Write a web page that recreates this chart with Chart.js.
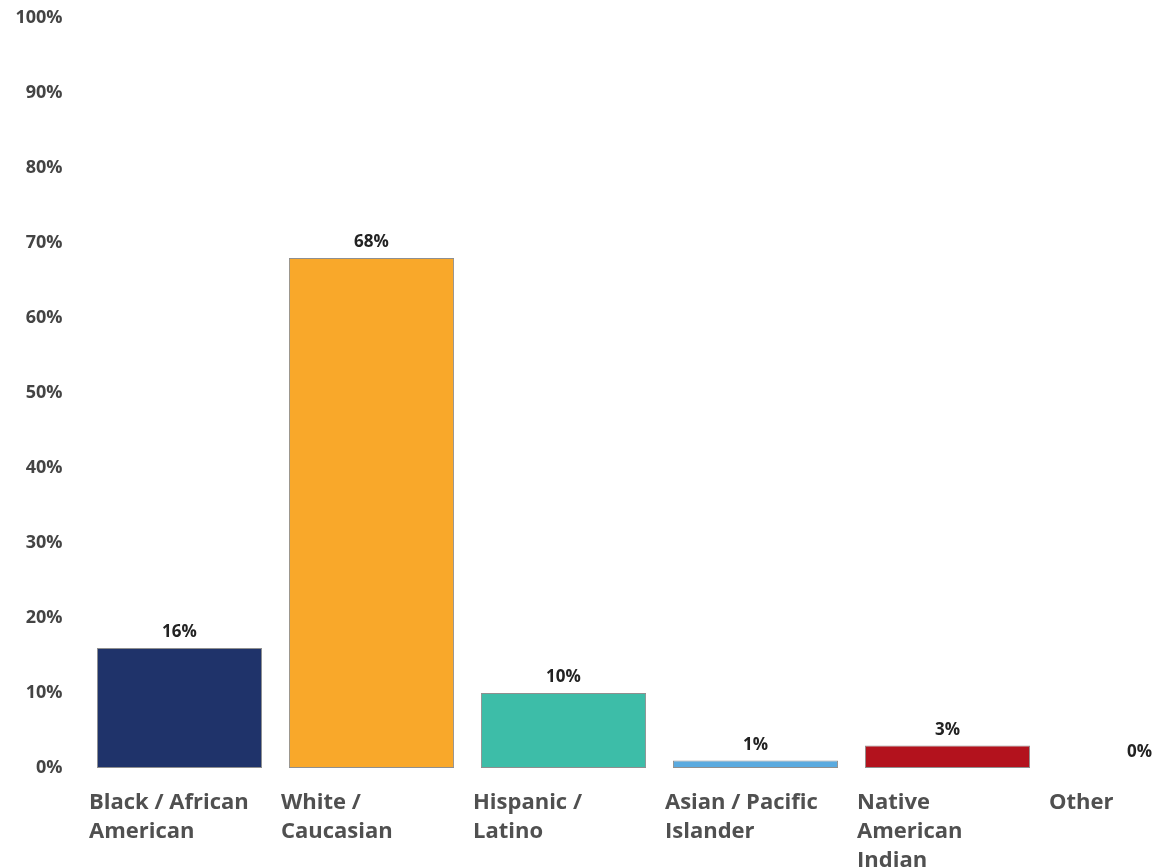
<!DOCTYPE html>
<html>
<head>
<meta charset="utf-8">
<script src="https://cdn.jsdelivr.net/npm/chart.js@4/dist/chart.umd.min.js"></script>
<style>
  html, body { margin: 0; padding: 0; background: #fff; overflow: hidden; width: 1155px; height: 868px; }
  #wrap { position: absolute; left: 0; top: 0; width: 1240px; height: 880px; }
</style>
</head>
<body>
<div id="wrap"><canvas id="c"></canvas></div>
<script>
// Race / ethnicity breakdown (percent of total)
const categories = [
  ['Black / African', 'American'],
  ['White /', 'Caucasian'],
  ['Hispanic /', 'Latino'],
  ['Asian / Pacific', 'Islander'],
  ['Native', 'American', 'Indian'],
  ['Other']
];
const shares = [16, 68, 10, 1, 3, 0];
const barColors = ['#1f336a', '#f9a82a', '#3dbda8', '#5aaadf', '#b3121d', '#999999'];
const yTicks = [0, 10, 20, 30, 40, 50, 60, 70, 80, 90, 100];

// Draws the percentage above each bar
const valueLabels = {
  id: 'valueLabels',
  afterDatasetsDraw(chart) {
    const ctx = chart.ctx;
    const meta = chart.getDatasetMeta(0);
    ctx.save();
    ctx.font = 'bold 17px "Open Sans", sans-serif';
    ctx.fillStyle = '#222';
    ctx.textAlign = 'center';
    ctx.textBaseline = 'alphabetic';
    meta.data.forEach((bar, i) => {
      ctx.fillText(shares[i] + '%', bar.x, bar.y - 11);
    });
    ctx.restore();
  }
};

new Chart(document.getElementById('c'), {
  type: 'bar',
  data: {
    labels: categories,
    datasets: [{
      data: shares,
      backgroundColor: barColors,
      borderColor: '#8f8f8f',
      borderWidth: 1,
      borderSkipped: false,
      barPercentage: 0.86,
      categoryPercentage: 1
    }]
  },
  options: {
    responsive: true,
    maintainAspectRatio: false,
    animation: false,
    events: [],
    layout: { padding: { left: 0, top: 18, right: 4.5, bottom: 0 } },
    plugins: { legend: { display: false }, tooltip: { enabled: false } },
    scales: {
      x: {
        grid: { display: false, drawTicks: false },
        border: { display: false },
        ticks: {
          align: 'start',
          labelOffset: -90.5,
          padding: 20,
          maxRotation: 0,
          autoSkip: false,
          color: '#505050',
          font: { family: '"Open Sans", sans-serif', size: 22, weight: 'bold', lineHeight: 29 / 22 }
        },
        afterFit(s) { s.height = 112; }
      },
      y: {
        min: 0,
        max: 100,
        grid: { display: false, drawTicks: false },
        border: { display: false },
        afterBuildTicks(s) { s.ticks = yTicks.map(v => ({ value: v })); },
        ticks: {
          padding: 21,
          color: '#444',
          font: { family: '"Open Sans", sans-serif', size: 18, weight: 'bold' },
          callback: v => v + '%'
        },
        afterFit(s) {
          s.width = 83.5;
          s.paddingTop = 0;
          s.paddingBottom = 0;
        }
      }
    }
  },
  plugins: [valueLabels]
});
</script>
</body>
</html>
